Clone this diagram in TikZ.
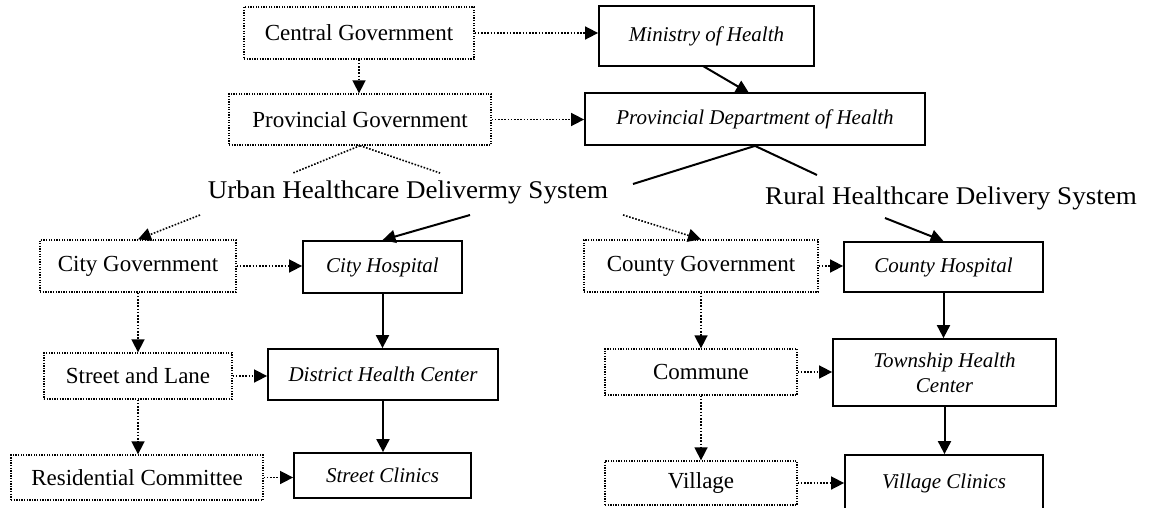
\documentclass[tikz,border=0pt]{standalone}
\usepackage{fontspec}
\setmainfont{Liberation Serif}
\newfontfamily\labelfont[FakeStretch=1.06]{Liberation Serif}
\usetikzlibrary{arrows.meta}
\begin{document}
\begin{tikzpicture}[x=1pt,y=-1pt,
 every node/.style={font=\fontsize{23}{26}\selectfont, inner sep=0pt, align=center},
 govbox/.style={draw, line width=1.3pt, dash pattern=on 1.3pt off 1.3pt},
 hbox/.style={draw, line width=1.8pt, font=\fontsize{21}{25}\selectfont\itshape},
 syslabel/.style={font=\labelfont\fontsize{25.5}{28}\selectfont},
 dotarrow/.style={line width=1.6pt, dash pattern=on 1.6pt off 1.6pt, -{Triangle[length=13pt,width=13pt]}},
 solarrow/.style={line width=2pt, -{Triangle[length=13pt,width=13pt]}},
 dotline/.style={line width=1.6pt, dash pattern=on 1.6pt off 1.6pt},
 solline/.style={line width=2pt}
]
\useasboundingbox (0,0) rectangle (1161,508);

% top
\node[govbox, minimum width=230pt, minimum height=52pt] (cg) at (359,33) {Central Government};
\node[hbox, minimum width=215pt, minimum height=60pt] (moh) at (706.5,36) {Ministry of Health};
\node[govbox, minimum width=262pt, minimum height=51pt] (pg) at (360,119.5) {Provincial Government};
\node[hbox, minimum width=340pt, minimum height=52pt] (pdh) at (755,119) {Provincial Department of Health};

% labels
\node[syslabel] (urb) at (408,192) {Urban Healthcare Delivermy System};
\node[syslabel] (rur) at (951,198) {Rural Healthcare Delivery System};

% urban column
\node[govbox, minimum width=196pt, minimum height=52pt] (citygov) at (138,266) {City Government};
\node[hbox, minimum width=159pt, minimum height=52pt] (cityhosp) at (382.5,267) {City Hospital};
\node[govbox, minimum width=188pt, minimum height=46pt] (street) at (138,376) {Street and Lane};
\node[hbox, minimum width=230pt, minimum height=51pt] (dhc) at (383,374.5) {District Health Center};
\node[govbox, minimum width=252pt, minimum height=45pt] (resid) at (137,477.5) {Residential Committee};
\node[hbox, minimum width=177pt, minimum height=45pt] (streetcl) at (382.5,475.5) {Street Clinics};

% rural column
\node[govbox, minimum width=234pt, minimum height=52pt] (countygov) at (701,266) {County Government};
\node[hbox, minimum width=199pt, minimum height=50pt] (countyhosp) at (943.5,267) {County Hospital};
\node[govbox, minimum width=192pt, minimum height=46pt] (commune) at (701,372) {Commune};
\node[hbox, minimum width=223pt, minimum height=67pt] (township) at (944.5,372.5) {Township Health\\Center};
\node[govbox, minimum width=192pt, minimum height=44pt] (village) at (701,483) {Village};
\node[hbox, minimum width=198pt, minimum height=57pt] (villcl) at (944,483.5) {Village Clinics};

% free ends near the labels
\coordinate (u1) at (293,173);
\coordinate (u2) at (440,173);
\coordinate (p1) at (633,184);
\coordinate (p2) at (817,175);
\coordinate (a1) at (200,215);
\coordinate (a2) at (470,215);
\coordinate (a3) at (623,215);
\coordinate (r1) at (885,218);

% top connectors
\draw[dotarrow] (cg.east) -- (cg.east -| moh.west);
\draw[dotarrow] (cg.south) -- (cg.south |- pg.north);
\draw[solarrow] (703,66) -- (749,93);
\draw[dotarrow] (pg.east) -- (pg.east -| pdh.west);

\draw[dotline] (pg.south) -- (u1);
\draw[dotline] (pg.south) -- (u2);
\draw[solline] (pdh.south) -- (p1);
\draw[solline] (pdh.south) -- (p2);

\draw[dotarrow] (a1) -- (citygov.north);
\draw[solarrow] (a2) -- (cityhosp.north);
\draw[dotarrow] (a3) -- (countygov.north);
\draw[solarrow] (r1) -- (countyhosp.north);

% urban connectors
\draw[dotarrow] (citygov.east) -- (citygov.east -| cityhosp.west);
\draw[dotarrow] (citygov.south) -- (street.north);
\draw[dotarrow] (street.east) -- (street.east -| dhc.west);
\draw[dotarrow] (street.south) -- (street.south |- resid.north);
\draw[dotarrow] (resid.east) -- (resid.east -| streetcl.west);
\draw[solarrow] (cityhosp.south) -- (cityhosp.south |- dhc.north);
\draw[solarrow] (dhc.south) -- (dhc.south |- streetcl.north);

% rural connectors
\draw[dotarrow] (countygov.east) -- (countygov.east -| countyhosp.west);
\draw[dotarrow] (countygov.south) -- (commune.north);
\draw[dotarrow] (commune.east) -- (commune.east -| township.west);
\draw[dotarrow] (commune.south) -- (village.north);
\draw[dotarrow] (village.east) -- (village.east -| villcl.west);
\draw[solarrow] (countyhosp.south) -- (countyhosp.south |- township.north);
\draw[solarrow] (township.south) -- (township.south |- villcl.north);
\end{tikzpicture}
\end{document}
